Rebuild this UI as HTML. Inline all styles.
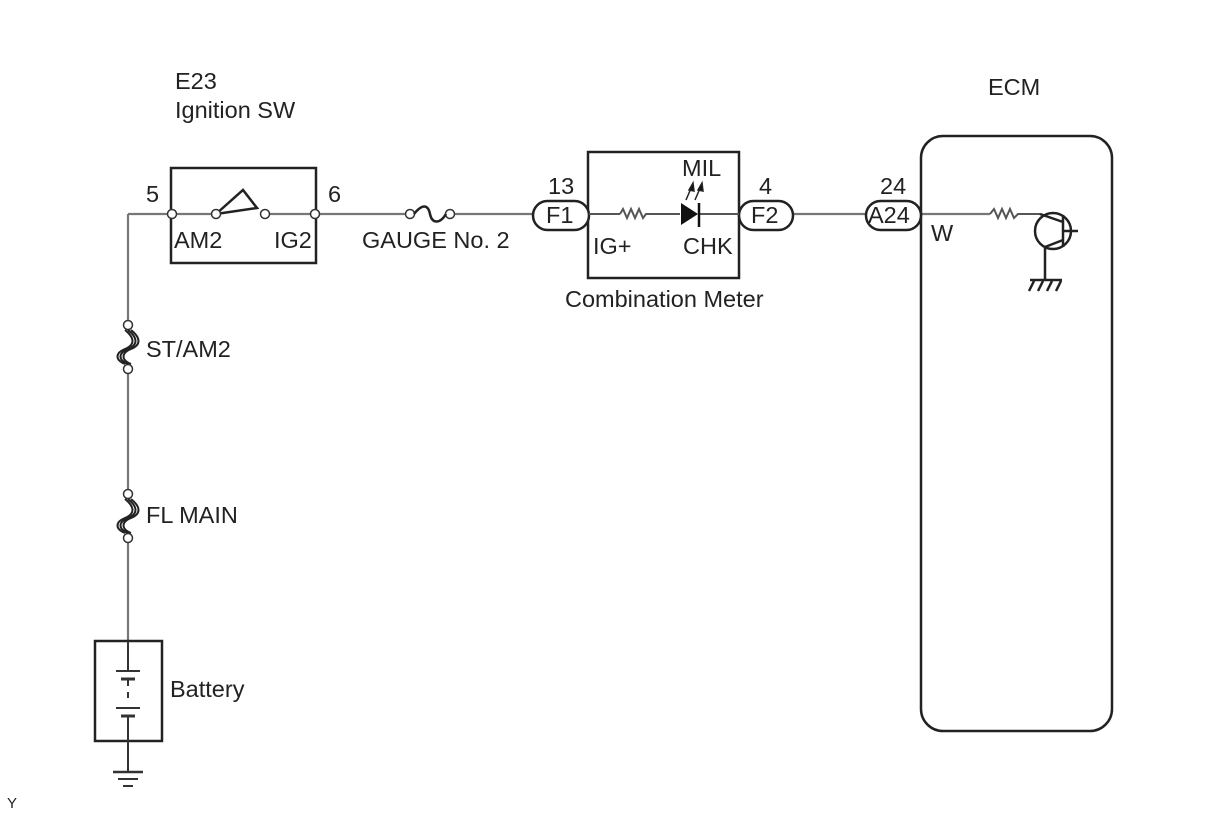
<!DOCTYPE html>
<html><head><meta charset="utf-8"><style>
html,body{margin:0;padding:0;background:#fff;}
svg{display:block;}
text{font-family:"Liberation Sans",sans-serif;font-size:23.5px;fill:#222;}
</style></head><body>
<svg width="1210" height="814" viewBox="0 0 1210 814" xmlns="http://www.w3.org/2000/svg">
<g stroke="#777" stroke-width="2.2" fill="none">
<line x1="128" y1="214" x2="172" y2="214"/>
<line x1="128" y1="214" x2="128" y2="320"/>
<line x1="128" y1="374" x2="128" y2="489"/>
<line x1="128" y1="543" x2="128" y2="641"/>
<line x1="172" y1="214" x2="216" y2="214"/>
<line x1="265" y1="214" x2="315" y2="214"/>
<line x1="315" y1="214" x2="405" y2="214"/>
<line x1="455" y1="214" x2="533" y2="214"/>
<line x1="793" y1="214" x2="866" y2="214"/>
<line x1="921" y1="214" x2="990" y2="214"/>
</g>
<g stroke="#222" stroke-width="2.5" fill="none">
<rect x="171" y="168" width="145" height="95"/>
<polyline points="216,214 243,190 257,208 216,214"/>
<rect x="588" y="152" width="151" height="126"/>
<rect x="921" y="136" width="191" height="595" rx="22"/>
<rect x="95" y="641" width="67" height="100"/>
</g>
<g stroke="#333" stroke-width="1.5" fill="#fff">
<circle cx="172" cy="214" r="4.5"/><circle cx="216" cy="214" r="4.5"/>
<circle cx="265" cy="214" r="4.5"/><circle cx="315" cy="214" r="4.5"/>
<circle cx="410" cy="214" r="4.5"/><circle cx="450" cy="214" r="4.5"/>
<circle cx="128" cy="325" r="4.5"/><circle cx="128" cy="369" r="4.5"/>
<circle cx="128" cy="494" r="4.5"/><circle cx="128" cy="538" r="4.5"/>
</g>
<path d="M414,214 C422,204 428,204 430,214 C432,224 440,224 446,214" stroke="#222" stroke-width="2.5" fill="none"/>
<g stroke="#222" stroke-width="2" fill="none">
<path d="M128,330 C138,338 138,345 128,349 C118,353 118,360 128,364"/>
<path d="M131,330 C141,338 141,345 131,349 C121,353 121,360 131,364"/>
<path d="M125,330 C135,338 135,345 125,349 C115,353 115,360 125,364"/>
<path d="M128,499 C138,507 138,514 128,518 C118,522 118,529 128,533"/>
<path d="M131,499 C141,507 141,514 131,518 C121,522 121,529 131,533"/>
<path d="M125,499 C135,507 135,514 125,518 C115,522 115,529 125,533"/>
</g>
<g stroke="#222" stroke-width="2.5" fill="#fff">
<rect x="533" y="201" width="56" height="29" rx="14.5"/>
<rect x="739" y="201" width="54" height="29" rx="14.5"/>
<rect x="866" y="201" width="55" height="29" rx="14.5"/>
</g>
<g stroke="#555" stroke-width="2" fill="none">
<line x1="589" y1="214" x2="620" y2="214"/>
<polyline points="620,214 623,209 627,218 631,209 635,218 639,209 643,218 646,214 680,214"/>
<line x1="698" y1="214" x2="739" y2="214"/>
<polyline points="990,214 994,209 998,218 1002,209 1006,218 1010,209 1014,218 1018,214 1040,214"/>
</g>
<polygon points="681,203 681,225 698,214" fill="#111"/>
<line x1="699" y1="203" x2="699" y2="227" stroke="#111" stroke-width="2.5"/>
<g stroke="#222" stroke-width="1.5" fill="#111">
<line x1="686" y1="200" x2="692" y2="186"/><polygon points="693,183 689,190 694,191"/>
<line x1="695" y1="200" x2="701" y2="186"/><polygon points="702,183 698,190 703,191"/>
</g>
<g stroke="#222" stroke-width="2.5" fill="none">
<circle cx="1053" cy="231" r="18"/>
<line x1="1063" y1="215" x2="1063" y2="247"/>
<line x1="1063" y1="231" x2="1078" y2="231"/>
<line x1="1040" y1="214" x2="1063" y2="222"/>
<line x1="1063" y1="240" x2="1045" y2="247"/>
<line x1="1045" y1="247" x2="1045" y2="280"/>
<line x1="1030" y1="280" x2="1062" y2="280"/>
<line x1="1034" y1="281" x2="1029" y2="291"/><line x1="1043" y1="281" x2="1038" y2="291"/><line x1="1052" y1="281" x2="1047" y2="291"/><line x1="1061" y1="281" x2="1056" y2="291"/>
</g>
<g stroke="#333" stroke-width="2" fill="none">
<line x1="128" y1="641" x2="128" y2="671"/>
<line x1="116" y1="671" x2="140" y2="671"/>
<line x1="121" y1="679" x2="135" y2="679" stroke-width="3"/>
<line x1="128" y1="680" x2="128" y2="686"/><line x1="128" y1="692" x2="128" y2="698"/>
<line x1="116" y1="708" x2="140" y2="708"/>
<line x1="121" y1="716" x2="135" y2="716" stroke-width="3"/>
<line x1="128" y1="717" x2="128" y2="772"/>
<line x1="113" y1="772" x2="143" y2="772" stroke-width="2.5"/>
<line x1="118" y1="779" x2="138" y2="779"/>
<line x1="123" y1="786" x2="133" y2="786"/>
</g>
<text x="175" y="89">E23</text>
<text x="175" y="118">Ignition SW</text>
<text x="988" y="95">ECM</text>
<text x="146" y="202">5</text>
<text x="328" y="202">6</text>
<text x="174" y="248">AM2</text>
<text x="274" y="248">IG2</text>
<text x="362" y="248">GAUGE No. 2</text>
<text x="548" y="194">13</text>
<text x="546" y="223">F1</text>
<text x="759" y="194">4</text>
<text x="751" y="223">F2</text>
<text x="880" y="194">24</text>
<text x="868" y="223">A24</text>
<text x="682" y="176">MIL</text>
<text x="593" y="254">IG+</text>
<text x="683" y="254">CHK</text>
<text x="565" y="307">Combination Meter</text>
<text x="931" y="241">W</text>
<text x="146" y="357">ST/AM2</text>
<text x="146" y="523">FL MAIN</text>
<text x="170" y="697">Battery</text>
<text x="7" y="808" style="font-size:15px">Y</text>
</svg>
</body></html>
